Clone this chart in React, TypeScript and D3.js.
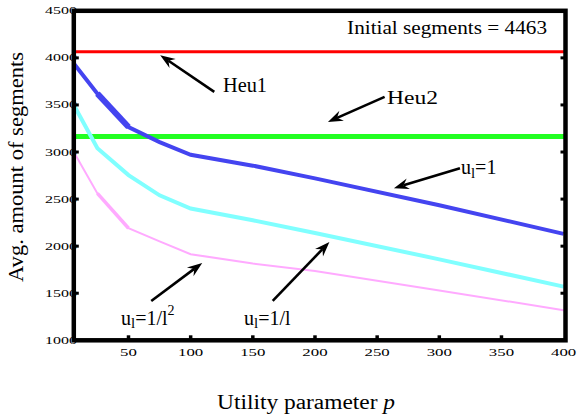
import React from 'react';
import * as d3 from 'd3';

// ---- data ----
const pValues = [6, 25, 50, 75, 100, 150, 200, 300, 400];
const seriesU1 = [3940, 3620, 3265, 3105, 2970, 2855, 2720, 2435, 2130];
const seriesUInvL = [3500, 3040, 2755, 2540, 2400, 2275, 2140, 1860, 1570];
const seriesUInvL2 = [3000, 2560, 2190, 2050, 1915, 1815, 1735, 1530, 1320];
const heu1Value = 4065;
const heu2Value = 3165;
const xTicks = [50, 100, 150, 200, 250, 300, 350, 400];
const yTicks = [1000, 1500, 2000, 2500, 3000, 3500, 4000, 4500];

// annotations in data units: [tailP, tailV, tipP, tipV]
const arrows = [
  [119, 3639, 75.5, 4029],
  [256, 3586, 210.4, 3320],
  [316.6, 2828, 263.5, 2616],
  [68.3, 1418, 109.3, 1822],
  [166, 1418, 211.6, 2045],
];

const W = 577;
const H = 417;
const FONT = "'Liberation Serif', 'DejaVu Serif', serif";

export default function App() {
  const x = d3.scaleLinear().domain([6, 401.5]).range([73.8, 565.5]);
  const y = d3.scaleLinear().domain([1000, 4500]).range([340.3, 10.8]);

  const line = d3
    .line<number>()
    .x((_, i) => x(pValues[i]))
    .y((d) => y(d));

  const segLine = (vals: number[], i0: number, i1: number) =>
    d3
      .line<number>()
      .x((_, i) => x(pValues[i0 + i]))
      .y((d) => y(d))(vals.slice(i0, i1 + 1)) as string;

  const arrowShapes = arrows.map(([tp, tv, hp, hv], k) => {
    const x0 = x(tp), y0 = y(tv), x1 = x(hp), y1 = y(hv);
    const dx = x1 - x0, dy = y1 - y0;
    const len = Math.hypot(dx, dy);
    const ux = dx / len, uy = dy / len;
    const nx = -uy, ny = ux;
    const L = 15, hw = 5.5, notch = 10;
    const bx = x1 - ux * L, by = y1 - uy * L;
    const mx = x1 - ux * notch, my = y1 - uy * notch;
    const pts = [
      [x1, y1],
      [bx + nx * hw, by + ny * hw],
      [mx, my],
      [bx - nx * hw, by - ny * hw],
    ];
    return (
      <g key={k}>
        <line x1={x0} y1={y0} x2={mx} y2={my} stroke="#000" strokeWidth={2.6} />
        <polygon points={pts.map((p) => p.join(',')).join(' ')} fill="#000" />
      </g>
    );
  });

  const x0 = x.range()[0], x1 = x.range()[1];
  const yTop = y.range()[1], yBot = y.range()[0];

  return (
    <svg
      width={W}
      height={H}
      style={{ position: 'absolute', left: 0, top: 0, background: '#fff', fontFamily: FONT }}
    >
      <rect x={0} y={0} width={W} height={H} fill="#fff" />

      {/* series */}
      <line x1={x0} x2={x1} y1={y(heu1Value)} y2={y(heu1Value)} stroke="#ff0000" strokeWidth={3} />
      <line x1={x0} x2={x1} y1={y(heu2Value)} y2={y(heu2Value)} stroke="#22ff22" strokeWidth={5} />
      <path d={line(seriesUInvL2) as string} fill="none" stroke="#ffaaff" strokeWidth={2} />
      <path d={segLine(seriesUInvL2, 1, 2)} fill="none" stroke="#ffaaff" strokeWidth={3.5} />
      <path d={line(seriesUInvL) as string} fill="none" stroke="#80ffff" strokeWidth={4} />
      <path d={line(seriesU1) as string} fill="none" stroke="#4444f0" strokeWidth={4} />
      <path d={segLine(seriesU1, 1, 2)} fill="none" stroke="#4444f0" strokeWidth={6} />

      {/* y tick labels */}
      {yTicks.map((t) => (
        <text
          key={t}
          x={77}
          y={y(t)}
          textAnchor="end"
          dominantBaseline="central"
          fontSize={10}
          textLength={32}
          lengthAdjust="spacingAndGlyphs"
          fill="#000"
        >
          {t}
        </text>
      ))}

      {/* x tick labels */}
      {xTicks.map((t) => (
        <text
          key={t}
          x={x(t)}
          y={352}
          textAnchor="middle"
          dominantBaseline="central"
          fontSize={10}
          textLength={String(t).length * 8.4}
          lengthAdjust="spacingAndGlyphs"
          fill="#000"
        >
          {t}
        </text>
      ))}

      {/* frame */}
      <rect x={x0} y={yTop} width={x1 - x0} height={yBot - yTop} fill="none" stroke="#000" strokeWidth={4.5} />

      {/* ticks */}
      {yTicks.slice(1, -1).map((t) => (
        <g key={'yt' + t}>
          <line x1={x0} x2={x0 + 5} y1={y(t)} y2={y(t)} stroke="#000" strokeWidth={3} />
          <line x1={x1} x2={x1 - 5} y1={y(t)} y2={y(t)} stroke="#000" strokeWidth={3} />
        </g>
      ))}
      {xTicks.slice(0, -1).map((t) => (
        <line key={'xt' + t} x1={x(t)} x2={x(t)} y1={yBot} y2={yBot - 5} stroke="#000" strokeWidth={3.5} />
      ))}

      {/* annotations */}
      {arrowShapes}
      <text x={x(225.8)} y={y(4327)} dominantBaseline="central" fontSize={19} textLength={200} lengthAdjust="spacingAndGlyphs">
        Initial segments = 4463
      </text>
      <text x={x(126)} y={y(3710)} dominantBaseline="central" fontSize={20} textLength={44} lengthAdjust="spacingAndGlyphs">
        Heu1
      </text>
      <text x={x(258)} y={y(3572)} dominantBaseline="central" fontSize={18} textLength={51} lengthAdjust="spacingAndGlyphs">
        Heu2
      </text>
      <text x={x(317.4)} y={y(2839)} dominantBaseline="central" fontSize={20}>
        u<tspan fontSize={15} dy={6}>l</tspan>
        <tspan dy={-6}>=1</tspan>
      </text>
      <text x={x(44)} y={y(1234)} dominantBaseline="central" fontSize={20}>
        u<tspan fontSize={15} dy={5}>l</tspan>
        <tspan dy={-5}>=1/l</tspan>
        <tspan fontSize={14} dy={-8}>2</tspan>
      </text>
      <text x={x(143)} y={y(1234)} dominantBaseline="central" fontSize={20}>
        u<tspan fontSize={15} dy={5}>l</tspan>
        <tspan dy={-5}>=1/l</tspan>
      </text>

      {/* axis titles */}
      <text
        transform={`translate(16,167) rotate(-90)`}
        textAnchor="middle"
        dominantBaseline="central"
        fontSize={21}
        textLength={230}
        lengthAdjust="spacingAndGlyphs"
      >
        Avg. amount of segments
      </text>
      <text
        x={306}
        y={402}
        textAnchor="middle"
        dominantBaseline="central"
        fontSize={20}
        textLength={178}
        lengthAdjust="spacingAndGlyphs"
      >
        Utility parameter <tspan fontStyle="italic">p</tspan>
      </text>
    </svg>
  );
}
